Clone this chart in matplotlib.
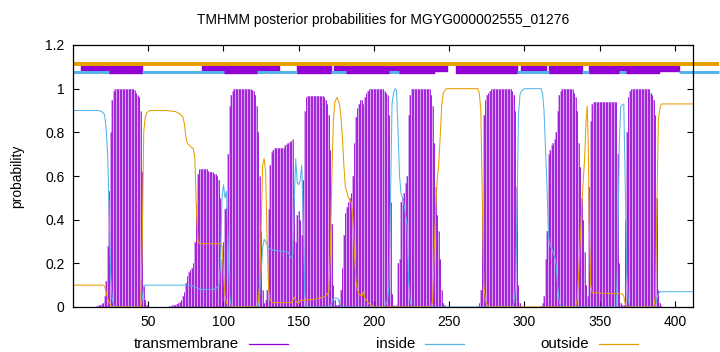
import numpy as np
import matplotlib.pyplot as plt
from matplotlib.lines import Line2D

plt.rcParams['font.family'] = ['Liberation Sans', 'DejaVu Sans']

seq_len = 412
title = 'TMHMM posterior probabilities for MGYG000002555_01276'

# transmembrane posterior, one value per residue, given as runs starting at tm_start
tm_start = [16, 64, 269, 311]
tm_runs = [
    [0.005, 0.01, 0.01, 0.015, 0.02, 0.05, 0.12, 0.28, 0.53, 0.8, 0.95, 0.99,
     1.0, 1.0, 1.0, 1.0, 1.0, 1.0, 1.0, 1.0, 1.0, 1.0, 1.0, 1.0, 1.0,
     0.995, 0.98, 0.97, 0.96, 0.9, 0.62, 0.1, 0.03, 0.01, 0.005],
    [0.005, 0.005, 0.01, 0.01, 0.01, 0.015, 0.02, 0.025, 0.03, 0.05,
     0.07, 0.11, 0.14, 0.16, 0.17, 0.18, 0.2, 0.3, 0.47, 0.61,
     0.63, 0.63, 0.63, 0.63, 0.63, 0.63, 0.625, 0.62, 0.62, 0.62,
     0.61, 0.61, 0.6, 0.58, 0.5, 0.22, 0.3, 0.45, 0.46, 0.7,
     0.92, 0.97, 0.99, 1.0, 1.0, 1.0, 1.0, 1.0, 1.0, 1.0,
     1.0, 1.0, 1.0, 1.0, 1.0, 0.995, 0.99, 0.97, 0.92, 0.8,
     0.6, 0.35, 0.08, 0.02, 0.03, 0.08, 0.45, 0.65, 0.71, 0.72,
     0.73, 0.73, 0.73, 0.73, 0.73, 0.73, 0.73, 0.74, 0.745, 0.75,
     0.755, 0.76, 0.77, 0.5, 0.3, 0.42, 0.44, 0.4, 0.33, 0.58,
     0.9, 0.96, 0.965, 0.965, 0.965, 0.965, 0.965, 0.965, 0.965, 0.965,
     0.965, 0.965, 0.965, 0.96, 0.95, 0.93, 0.88, 0.72, 0.38, 0.1,
     0.03, 0.01, 0.01, 0.03, 0.08, 0.18, 0.33, 0.43, 0.46, 0.48,
     0.5, 0.52, 0.6, 0.75, 0.87, 0.91, 0.93, 0.95, 0.95, 0.93,
     0.96, 0.98, 0.99, 1.0, 1.0, 1.0, 1.0, 1.0, 1.0, 1.0,
     1.0, 1.0, 1.0, 0.99, 0.98, 0.97, 0.88, 0.48, 0.06, 0.01,
     0.005, 0.01, 0.2, 0.22, 0.48, 0.5, 0.52, 0.57, 0.6, 0.88,
     0.97, 1.0, 1.0, 1.0, 1.0, 1.0, 1.0, 1.0, 1.0, 1.0,
     1.0, 1.0, 1.0, 1.0, 0.97, 0.92, 0.75, 0.55, 0.42, 0.35,
     0.22, 0.08, 0.02, 0.01],
    [0.005, 0.02, 0.08, 0.48, 0.88, 0.95, 0.97, 0.98, 0.99, 1.0,
     1.0, 1.0, 1.0, 1.0, 1.0, 1.0, 1.0, 1.0, 1.0, 1.0,
     1.0, 1.0, 1.0, 0.99, 0.97, 0.9, 0.55, 0.1, 0.02, 0.005],
    [0.005, 0.02, 0.05, 0.22, 0.35, 0.7, 0.72, 0.74, 0.75, 0.77,
     0.8, 0.9, 0.97, 0.99, 1.0, 1.0, 1.0, 1.0, 1.0, 1.0,
     1.0, 1.0, 0.98, 0.96, 0.9, 0.75, 0.64, 0.5, 0.4, 0.25,
     0.1, 0.05, 0.55, 0.85, 0.93, 0.94, 0.94, 0.94, 0.94, 0.94,
     0.94, 0.94, 0.94, 0.94, 0.94, 0.94, 0.94, 0.94, 0.94, 0.94,
     0.94, 0.7, 0.2, 0.02, 0.01, 0.01, 0.4, 0.8, 0.96, 0.99,
     0.997, 0.997, 0.997, 0.997, 0.997, 0.997, 0.997, 0.997, 0.997, 0.997,
     0.997, 0.997, 0.997, 0.98, 0.97, 0.95, 0.88, 0.5, 0.08, 0.02,
     0.005],
]

# inside / outside posterior, read as (residue, probability) points
inside_pts = [(1, 0.9), (17, 0.9), (19, 0.895), (20, 0.89), (21, 0.88), (22, 0.82),
              (23, 0.7), (24, 0.45), (25, 0.15), (26, 0.04), (27, 0.01), (28, 0.0),
              (45, 0.0), (46, 0.04), (47, 0.09), (48, 0.1), (78, 0.1), (80, 0.095),
              (83, 0.085), (85, 0.08), (92, 0.08), (95, 0.085), (97, 0.1), (98, 0.2),
              (99, 0.5), (100, 0.56), (101, 0.5), (102, 0.53), (103, 0.3), (104, 0.06),
              (105, 0.01), (106, 0.0), (123, 0.0), (124, 0.05), (125, 0.15), (126, 0.27),
              (127, 0.31), (128, 0.3), (130, 0.27), (133, 0.26), (140, 0.255), (143, 0.25),
              (145, 0.225), (146, 0.23), (147, 0.48), (148, 0.68), (149, 0.57), (150, 0.56),
              (151, 0.58), (152, 0.65), (153, 0.4), (154, 0.06), (155, 0.0), (171, 0.0),
              (172, 0.02), (173, 0.04), (176, 0.04), (177, 0.02), (178, 0.0), (207, 0.0),
              (208, 0.02), (209, 0.03), (210, 0.1), (211, 0.5), (212, 0.93), (213, 0.98),
              (214, 1.0), (215, 0.99), (216, 0.8), (217, 0.6), (218, 0.52), (219, 0.5),
              (220, 0.47), (221, 0.42), (222, 0.38), (223, 0.12), (224, 0.03), (225, 0.0),
              (292, 0.0), (293, 0.02), (294, 0.08), (295, 0.4), (296, 0.88), (297, 0.97),
              (298, 0.99), (300, 1.0), (311, 1.0), (312, 0.98), (313, 0.9), (314, 0.72),
              (315, 0.55), (316, 0.32), (317, 0.28), (318, 0.27), (319, 0.25), (320, 0.23),
              (321, 0.2), (322, 0.1), (323, 0.03), (324, 0.0), (361, 0.0), (362, 0.25),
              (363, 0.75), (364, 0.92), (366, 0.93), (367, 0.55), (368, 0.15), (369, 0.03),
              (370, 0.0), (387, 0.0), (388, 0.04), (389, 0.06), (390, 0.07), (412, 0.07)]

outside_pts = [(1, 0.1), (20, 0.1), (21, 0.095), (22, 0.07), (23, 0.04), (24, 0.02),
               (25, 0.01), (26, 0.0), (45, 0.0), (46, 0.3), (47, 0.8), (48, 0.87),
               (49, 0.89), (51, 0.9), (62, 0.9), (68, 0.895), (71, 0.885), (73, 0.87),
               (74, 0.84), (75, 0.78), (76, 0.75), (78, 0.735), (80, 0.725), (81, 0.68),
               (82, 0.45), (83, 0.31), (84, 0.29), (98, 0.29), (99, 0.28), (100, 0.15),
               (101, 0.05), (102, 0.02), (103, 0.0), (122, 0.0), (123, 0.02), (124, 0.1),
               (125, 0.35), (126, 0.65), (127, 0.68), (128, 0.62), (129, 0.3), (130, 0.08),
               (131, 0.03), (132, 0.02), (145, 0.02), (146, 0.03), (147, 0.045), (148, 0.03),
               (149, 0.02), (150, 0.015), (151, 0.03), (160, 0.035), (166, 0.045), (168, 0.05),
               (170, 0.07), (171, 0.25), (172, 0.6), (173, 0.85), (174, 0.94), (175.5, 0.96),
               (177, 0.93), (178, 0.88), (179, 0.78), (180, 0.65), (181, 0.55), (183, 0.5),
               (185, 0.48), (186, 0.4), (187, 0.25), (188, 0.12), (189, 0.08), (190, 0.06),
               (192, 0.05), (193, 0.07), (194, 0.04), (196, 0.02), (198, 0.01), (200, 0.0),
               (238, 0.0), (239, 0.03), (240, 0.25), (241, 0.45), (242, 0.58), (243, 0.65),
               (244, 0.78), (245, 0.92), (246, 0.98), (247, 0.99), (248, 1.0), (269, 1.0),
               (270, 0.98), (271, 0.9), (272, 0.5), (273, 0.1), (274, 0.03), (275, 0.01),
               (277, 0.0), (334, 0.0), (335, 0.03), (336, 0.15), (337, 0.3), (338, 0.45),
               (339, 0.57), (340, 0.68), (341, 0.86), (341.7, 0.92), (342.4, 0.75), (343, 0.4),
               (344, 0.1), (345, 0.065), (365, 0.06), (366, 0.05), (367, 0.01), (368, 0.0),
               (386, 0.0), (387, 0.05), (388, 0.45), (389, 0.86), (390, 0.91), (391, 0.93),
               (412, 0.93)]

# topology strip above the plot (residue ranges)
outside_strip = [(0, 429)]
inside_strip = [(0, 24), (46, 100.5), (122.4, 149), (171.5, 181.5), (210, 216.7),
                (295, 316.3), (338.2, 343), (363, 367.6), (402.8, 429)]
tm_boxes_tall = [(24, 46), (100.5, 122.4), (149, 171.5), (181.5, 210), (216.7, 240),
                 (254.5, 295), (316.3, 338.2), (343, 363), (367.6, 389.5)]
tm_boxes_upper = [(5.5, 24)]
tm_boxes_mid = [(85.9, 100.5), (122.4, 137), (173.5, 181.5), (210, 216.7), (240, 248.5),
                (297.7, 314.3), (363, 367.6), (389.5, 402.8)]

purple = '#9400d3'
blue = '#56b4e9'
orange = '#e69f00'

res = np.arange(1, seq_len + 1)
tm = np.zeros(seq_len)
for s, vals in zip(tm_start, tm_runs):
    tm[s - 1:s - 1 + len(vals)] = vals

fig = plt.figure(figsize=(7.2, 3.52), dpi=100)
ax = fig.add_axes([73 / 720, 45 / 352, 620 / 720, 262 / 352])

ax.bar(res, tm, width=1.0, color='#d6a4f0', linewidth=0)
ax.vlines(res, 0, tm, color=purple, lw=0.55)

ix, iy = zip(*inside_pts)
ox, oy = zip(*outside_pts)
ax.plot(ix, iy, color=blue, lw=0.75)
ax.plot(ox, oy, color=orange, lw=0.75)

for s, e in outside_strip:
    ax.hlines(1.113, s, e, color=orange, lw=2.9, clip_on=False)
for s, e in inside_strip:
    ax.hlines(1.0756, s, e, color=blue, lw=2.2, clip_on=False)
ax.broken_barh([(s, e - s) for s, e in tm_boxes_tall], (1.0705, 0.046), color=purple)
ax.broken_barh([(s, e - s) for s, e in tm_boxes_upper], (1.0825, 0.034), color=purple)
ax.broken_barh([(s, e - s) for s, e in tm_boxes_mid], (1.0825, 0.0215), color=purple)

ax.set_xlim(0, seq_len)
ax.set_ylim(0, 1.2)
ax.set_xticks([50, 100, 150, 200, 250, 300, 350, 400])
ax.set_yticks([0, 0.2, 0.4, 0.6, 0.8, 1.0, 1.2])
ax.set_yticklabels(['0', '0.2', '0.4', '0.6', '0.8', '1', '1.2'])
ax.tick_params(direction='in', top=True, right=True, length=4, width=0.8,
               labelsize=10, pad=6)
for sp in ax.spines.values():
    sp.set_linewidth(0.9)

fig.text(383 / 720, 1 - 20 / 352, title, ha='center', va='center', fontsize=10)
fig.text(17 / 720, 0.5, 'probability', rotation=90, ha='center', va='center', fontsize=10)

# legend in gnuplot style: label then line sample
ly = 1 - 344 / 352
for txt, x_end, col in [('transmembrane', 239, purple), ('inside', 415, blue),
                        ('outside', 589, orange)]:
    fig.text(x_end / 720, ly, txt, ha='right', va='center', fontsize=10.8)
    fig.add_artist(Line2D([(x_end + 10) / 720, (x_end + 49) / 720], [ly, ly],
                          color=col, lw=0.9))

plt.savefig('out.png', dpi=100)
